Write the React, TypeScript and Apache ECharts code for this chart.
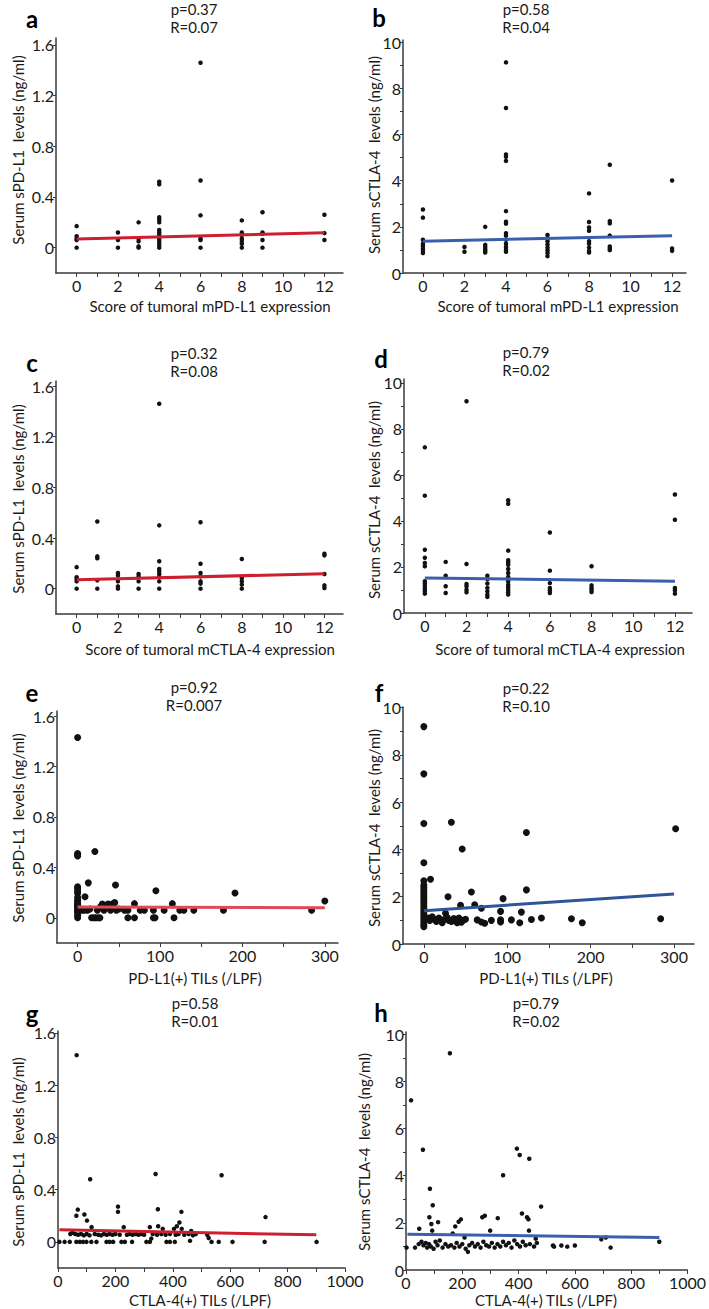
import React, { useEffect, useRef } from "react";
import * as echarts from "echarts";

type Pt = [number, number];

// ---------- data ----------
const pointsA: Pt[] = [
  [0, 0.17], [0, 0.09], [0, 0.07], [0, 0.06], [0, 0],
  [2, 0.12], [2, 0.06], [2, 0],
  [3, 0.2], [3, 0.07], [3, 0.05], [3, 0.01], [3, 0],
  [4, 0.52], [4, 0.5], [4, 0.24], [4, 0.22], [4, 0.2], [4, 0.14], [4, 0.12], [4, 0.1], [4, 0.08], [4, 0.06], [4, 0.04], [4, 0.02], [4, 0],
  [6, 1.46], [6, 0.53], [6, 0.255], [6, 0.07], [6, 0.06], [6, 0],
  [8, 0.215], [8, 0.12], [8, 0.1], [8, 0.07], [8, 0.05], [8, 0.03], [8, 0],
  [9, 0.28], [9, 0.12], [9, 0.11], [9, 0.06], [9, 0],
  [12, 0.26], [12, 0.115], [12, 0.06],
];
const fitA: Pt[] = [[0, 0.068], [12, 0.118]];

const pointsB: Pt[] = [
  [0, 2.75], [0, 2.4], [0, 1.44], [0, 1.27], [0, 1.17], [0, 1.06], [0, 0.96], [0, 0.87],
  [2, 1.13], [2, 0.92],
  [3, 2.0], [3, 1.22], [3, 1.13], [3, 1.03], [3, 0.96], [3, 0.89],
  [4, 9.13], [4, 7.15], [4, 5.14], [4, 5.04], [4, 4.86], [4, 2.68], [4, 2.22], [4, 2.14], [4, 1.72], [4, 1.62], [4, 1.44], [4, 1.27], [4, 1.13], [4, 1.01], [4, 0.92],
  [6, 1.65], [6, 1.52], [6, 1.38], [6, 1.24], [6, 1.1], [6, 0.99], [6, 0.87], [6, 0.73],
  [8, 3.45], [8, 2.21], [8, 1.97], [8, 1.83], [8, 1.38], [8, 1.27], [8, 1.1], [8, 0.96], [8, 0.89],
  [9, 4.69], [9, 2.25], [9, 2.15], [9, 1.62], [9, 1.15], [9, 1.06], [9, 0.99],
  [12, 4.01], [12, 1.06], [12, 0.96],
];
const fitB: Pt[] = [[0, 1.38], [12, 1.61]];

const pointsC: Pt[] = [
  [0, 0.17], [0, 0.09], [0, 0.076], [0, 0.058], [0, 0],
  [1, 0.53], [1, 0.255], [1, 0.24], [1, 0.066], [1, 0],
  [2, 0.124], [2, 0.105], [2, 0.058], [2, 0.018], [2, 0],
  [3, 0.116], [3, 0.097], [3, 0.058], [3, 0],
  [4, 1.46], [4, 0.5], [4, 0.216], [4, 0.155], [4, 0.137], [4, 0.116], [4, 0.092], [4, 0.058], [4, 0],
  [6, 0.524], [6, 0.197], [6, 0.124], [6, 0.097], [6, 0.058], [6, 0.04], [6, 0],
  [8, 0.234], [8, 0.084], [8, 0.058], [8, 0.032], [8, 0],
  [12, 0.276], [12, 0.263], [12, 0.116], [12, 0.026], [12, 0.005],
];
const fitC: Pt[] = [[0, 0.071], [12, 0.118]];

const pointsD: Pt[] = [
  [0, 7.2], [0, 5.1], [0, 2.75], [0, 2.4], [0, 2.17], [0, 2.03], [0, 1.38], [0, 1.28], [0, 1.16], [0, 1.04], [0, 0.94], [0, 0.84],
  [1, 2.22], [1, 1.62], [1, 1.16], [1, 0.87],
  [2, 9.2], [2, 2.13], [2, 1.26], [2, 1.16], [2, 1.01], [2, 0.9],
  [3, 1.62], [3, 1.48], [3, 1.28], [3, 1.09], [3, 0.94], [3, 0.8], [3, 0.7],
  [4, 4.9], [4, 4.75], [4, 2.71], [4, 2.29], [4, 2.2], [4, 2.1], [4, 1.91], [4, 1.74], [4, 1.57], [4, 1.38], [4, 1.23], [4, 1.12], [4, 1.01], [4, 0.9], [4, 0.8],
  [6, 3.5], [6, 1.84], [6, 1.3], [6, 1.09], [6, 0.99], [6, 0.87],
  [8, 2.03], [8, 1.2], [8, 1.09], [8, 1.01], [8, 0.91],
  [12, 5.15], [12, 4.05], [12, 1.09], [12, 0.99], [12, 0.84],
];
const fitD: Pt[] = [[0, 1.52], [12, 1.38]];

const pointsE: Pt[] = [
  [0, 1.43], [0, 0.51], [0, 0.5], [0, 0.49], [0, 0.245], [0, 0.23], [0, 0.21], [0, 0.195], [0, 0.16], [0, 0.14],
  [0, 0.12], [0, 0.11], [0, 0.1], [0, 0.09], [0, 0.08], [0, 0.07], [0, 0.06], [0, 0.05], [0, 0.04], [0, 0.02], [0, 0],
  [9, 0.167], [13, 0.277], [21, 0.525], [5, 0.06], [8, 0.06], [12, 0.06], [15, 0.07],
  [17, 0], [20, 0], [22, 0], [25, 0], [27, 0], [24, 0.06], [28, 0.09], [30, 0.11], [32, 0.06], [35, 0.09],
  [37, 0.11], [40, 0.06], [42, 0.11], [45, 0.12], [46, 0.26], [47, 0.06], [50, 0.07], [57, 0.06], [61, 0.06],
  [61, 0], [69, 0.112], [69, 0], [76, 0.06], [81, 0.06], [92, 0.06], [92, 0], [94, 0], [95, 0.214], [105, 0.06],
  [115, 0.112], [117, 0], [124, 0.06], [129, 0.06], [141, 0.06], [177, 0.06], [191, 0.196], [284, 0.06], [300, 0.133],
];
const fitE: Pt[] = [[0, 0.085], [300, 0.08]];

const pointsF: Pt[] = [
  [0, 9.2], [0, 7.2], [0, 5.1], [0, 3.44], [0, 2.68], [0, 2.5], [0, 2.4], [0, 2.3], [0, 2.2], [0, 2.1], [0, 2.0],
  [0, 1.9], [0, 1.8], [0, 1.7], [0, 1.6], [0, 1.5], [0, 1.4], [0, 1.3], [0, 1.2], [0, 1.1], [0, 1.0], [0, 0.9], [0, 0.8], [0, 0.73],
  [8, 2.74], [33, 5.15], [46, 4.02], [123, 4.72], [302, 4.88],
  [29, 2.0], [57, 2.2], [123, 2.29], [95, 1.92], [44, 1.64], [61, 1.66], [69, 1.51], [92, 1.38], [117, 1.35], [26, 1.3],
  [284, 1.07], [190, 0.9], [177, 1.07], [141, 1.1], [129, 1.04], [115, 0.9], [105, 1.02], [92, 1.02], [92, 0.93],
  [81, 1.0], [73, 0.88], [69, 0.93], [64, 1.02],
  [5, 1.1], [7, 1.0], [10, 1.15], [12, 1.05], [15, 0.95], [18, 1.1], [20, 1.0], [22, 0.9], [25, 1.05], [28, 1.12],
  [30, 1.0], [33, 0.95], [36, 1.08], [38, 0.98], [40, 0.9], [42, 1.1], [45, 0.92], [47, 1.0], [50, 1.05],
];
const fitF: Pt[] = [[0, 1.41], [300, 2.12]];

const pointsG: Pt[] = [
  [65, 1.43], [112, 0.48], [340, 0.52], [570, 0.51], [723, 0.19],
  [69, 0.247], [64, 0.2], [92, 0.21], [101, 0.163], [209, 0.27], [209, 0.23], [348, 0.25], [430, 0.23], [423, 0.148],
  [117, 0.113], [229, 0.113], [320, 0.113], [349, 0.12], [365, 0.1], [404, 0.1], [414, 0.12], [431, 0.1], [464, 0.084],
  [325, 0.025], [460, 0.008],
  [5, 0], [23, 0], [41, 0], [64, 0], [76, 0], [87, 0], [99, 0], [116, 0], [134, 0], [169, 0], [180, 0], [192, 0],
  [221, 0], [233, 0], [258, 0], [308, 0], [320, 0], [378, 0], [390, 0], [407, 0], [535, 0], [560, 0], [608, 0], [720, 0], [901, 0],
  [43, 0.06], [50, 0.07], [60, 0.06], [70, 0.055], [80, 0.06], [90, 0.05], [100, 0.06], [110, 0.05], [128, 0.06],
  [140, 0.055], [150, 0.05], [160, 0.06], [170, 0.055], [180, 0.06], [190, 0.055], [200, 0.06], [215, 0.055],
  [240, 0.055], [250, 0.06], [260, 0.055], [270, 0.06], [280, 0.055], [290, 0.06], [300, 0.055], [330, 0.06],
  [345, 0.055], [360, 0.06], [375, 0.055], [390, 0.06], [410, 0.055], [420, 0.06], [440, 0.055], [455, 0.06],
  [470, 0.05], [480, 0.06], [520, 0.055], [525, 0.03],
];
const fitG: Pt[] = [[5, 0.092], [900, 0.054]];

const pointsH: Pt[] = [
  [18, 7.2], [60, 5.1], [156, 9.2], [85, 3.45], [95, 2.75], [345, 4.02], [394, 5.15], [404, 4.88], [438, 4.72], [480, 2.69],
  [83, 2.24], [90, 1.95], [114, 2.03], [93, 1.67], [47, 1.75], [175, 1.85], [187, 2.05], [195, 2.15], [271, 2.24],
  [280, 2.3], [326, 2.2], [299, 1.67], [412, 2.4], [430, 2.24], [435, 2.15], [437, 1.67], [166, 1.55], [208, 1.38],
  [461, 1.33], [694, 1.3], [710, 1.38], [727, 0.95], [900, 1.2], [600, 1.04], [573, 0.99], [552, 1.04], [526, 0.99],
  [522, 1.04], [220, 0.77], [2, 0.95], [32, 0.95],
  [45, 1.1], [55, 1.2], [62, 1.05], [70, 1.15], [75, 0.95], [82, 1.1], [88, 1.0], [98, 0.9], [105, 1.2], [112, 1.05],
  [120, 1.25], [130, 0.95], [140, 1.1], [150, 1.0], [160, 1.05], [172, 0.95], [180, 1.15], [190, 1.0], [200, 1.1],
  [212, 0.9], [225, 1.05], [235, 1.15], [245, 1.0], [255, 1.1], [265, 0.95], [275, 1.2], [285, 1.05], [295, 1.0],
  [305, 1.15], [315, 0.95], [325, 1.1], [335, 1.0], [345, 1.2], [355, 1.05], [365, 1.15], [375, 0.95], [385, 1.25],
  [395, 1.1], [405, 1.0], [415, 1.2], [425, 1.05], [440, 1.1], [455, 1.0], [465, 1.15],
];
const fitH: Pt[] = [[5, 1.52], [900, 1.38]];

// ---------- ticks / labels ----------
const scoreLabels = [0, 2, 4, 6, 8, 10, 12];
const scoreTicks = [0, 1, 2, 3, 4, 5, 6, 7, 8, 9, 10, 11, 12];
const pdl1Labels = [0, 0.4, 0.8, 1.2, 1.6];
const ctla4Labels = [0, 2, 4, 6, 8, 10];
const ctla4Ticks = [0, 1, 2, 3, 4, 5, 6, 7, 8, 9, 10];
const til300Labels = [0, 100, 200, 300];
const til300Ticks = [0, 50, 100, 150, 200, 250, 300];
const til1000Labels = [0, 200, 400, 600, 800, 1000];
const til1000Ticks = [0, 100, 200, 300, 400, 500, 600, 700, 800, 900, 1000];

const statsP = ["p=0.37", "p=0.58", "p=0.32", "p=0.79", "p=0.92", "p=0.22", "p=0.58", "p=0.79"];
const statsR = ["R=0.07", "R=0.04", "R=0.08", "R=0.02", "R=0.007", "R=0.10", "R=0.01", "R=0.02"];
const letters = ["a", "b", "c", "d", "e", "f", "g", "h"];
const yTitlePD = "Serum sPD-L1  levels (ng/ml)";
const yTitleCT = "Serum sCTLA-4  levels (ng/ml)";
const xTitles = [
  "Score of tumoral mPD-L1 expression",
  "Score of tumoral mCTLA-4 expression",
  "PD-L1(+) TILs (/LPF)",
  "CTLA-4(+) TILs (/LPF)",
];

const RED = "#cc1f2f";
const PINK = "#dd4b5a";
const BLUE = "#3a5fae";
const FONT = "Lato, 'Noto Sans', sans-serif";
const INK = "#1a1a1a";
const AX = "#3a3a3a";

interface Panel {
  grid: { left: number; top: number; width: number; height: number };
  xMin: number; xMax: number; xLabels: number[]; xTicks: number[];
  yMin: number; yMax: number; yLabels: number[]; yTicks: number[];
  points: Pt[]; fit: Pt[]; color: string; dot: number;
  letter: [number, number]; stats: [number, number]; yTitle: [number, number]; yText: string;
  xTitle: [number, number]; xText: string;
}

const panels: Panel[] = [
  { grid: { left: 56, top: 38, width: 287, height: 235 }, xMin: -1, xMax: 12.9, xLabels: scoreLabels, xTicks: scoreTicks,
    yMin: -0.2, yMax: 1.655, yLabels: pdl1Labels, yTicks: pdl1Labels, points: pointsA, fit: fitA, color: RED, dot: 4.5,
    letter: [32, 18], stats: [194, 9], yTitle: [18, 150], yText: yTitlePD, xTitle: [210, 306], xText: xTitles[0] },
  { grid: { left: 403, top: 40, width: 283, height: 233 }, xMin: -0.96, xMax: 12.67, xLabels: scoreLabels, xTicks: scoreTicks,
    yMin: 0, yMax: 10.1, yLabels: ctla4Labels, yTicks: ctla4Ticks, points: pointsB, fit: fitB, color: BLUE, dot: 4.5,
    letter: [379, 17], stats: [526, 9], yTitle: [374, 155], yText: yTitleCT, xTitle: [558, 306], xText: xTitles[0] },
  { grid: { left: 56, top: 381, width: 287, height: 233 }, xMin: -1, xMax: 12.9, xLabels: scoreLabels, xTicks: scoreTicks,
    yMin: -0.2, yMax: 1.64, yLabels: pdl1Labels, yTicks: pdl1Labels, points: pointsC, fit: fitC, color: RED, dot: 4.5,
    letter: [32, 362], stats: [194, 353], yTitle: [18, 499], yText: yTitlePD, xTitle: [210, 649], xText: xTitles[1] },
  { grid: { left: 404, top: 379, width: 288, height: 234 }, xMin: -1, xMax: 12.82, xLabels: scoreLabels, xTicks: scoreTicks,
    yMin: 0, yMax: 10.17, yLabels: ctla4Labels, yTicks: ctla4Ticks, points: pointsD, fit: fitD, color: BLUE, dot: 4.5,
    letter: [381, 358], stats: [526, 352], yTitle: [374, 500], yText: yTitleCT, xTitle: [560, 649], xText: xTitles[1] },
  { grid: { left: 57, top: 711, width: 281, height: 232 }, xMin: -25, xMax: 316, xLabels: til300Labels, xTicks: til300Ticks,
    yMin: -0.2, yMax: 1.64, yLabels: pdl1Labels, yTicks: pdl1Labels, points: pointsE, fit: fitE, color: PINK, dot: 7,
    letter: [32, 692], stats: [194, 687], yTitle: [18, 828], yText: yTitlePD, xTitle: [195, 978], xText: xTitles[2] },
  { grid: { left: 403, top: 707, width: 291, height: 237 }, xMin: -25, xMax: 324, xLabels: til300Labels, xTicks: til300Ticks,
    yMin: 0, yMax: 10.03, yLabels: ctla4Labels, yTicks: ctla4Ticks, points: pointsF, fit: fitF, color: "#2f5597", dot: 7,
    letter: [379, 692], stats: [526, 688], yTitle: [374, 828], yText: yTitleCT, xTitle: [546, 978], xText: xTitles[2] },
  { grid: { left: 58, top: 1031, width: 287, height: 237 }, xMin: 0, xMax: 1000, xLabels: til1000Labels, xTicks: til1000Ticks,
    yMin: -0.2, yMax: 1.615, yLabels: pdl1Labels, yTicks: pdl1Labels, points: pointsG, fit: fitG, color: RED, dot: 4.5,
    letter: [32, 1013], stats: [195, 1003], yTitle: [18, 1152], yText: yTitlePD, xTitle: [200, 1300], xText: xTitles[3] },
  { grid: { left: 406, top: 1032, width: 287, height: 238 }, xMin: 0, xMax: 1000, xLabels: til1000Labels, xTicks: til1000Ticks,
    yMin: 0, yMax: 10.1, yLabels: ctla4Labels, yTicks: ctla4Ticks, points: pointsH, fit: fitH, color: BLUE, dot: 4.5,
    letter: [381, 1012], stats: [536, 1003], yTitle: [364, 1152], yText: yTitleCT, xTitle: [546, 1300], xText: xTitles[3] },
];

function buildOption() {
  const grid: any[] = [];
  const xAxis: any[] = [];
  const yAxis: any[] = [];
  const series: any[] = [];
  const graphic: any[] = [];

  panels.forEach((p, i) => {
    grid.push({ ...p.grid, containLabel: false });
    xAxis.push({
      type: "value", gridIndex: i, min: p.xMin, max: p.xMax,
      axisLine: { onZero: false, lineStyle: { color: AX, width: 1.5 } },
      axisTick: { show: true, length: 4, customValues: p.xTicks, lineStyle: { color: AX, width: 1 } },
      axisLabel: {
        customValues: p.xLabels, fontSize: 16, color: INK, fontFamily: FONT, margin: 4,
        lineHeight: 16, formatter: (v: number) => String(v),
      },
      splitLine: { show: false },
    });
    yAxis.push({
      type: "value", gridIndex: i, min: p.yMin, max: p.yMax,
      axisLine: { onZero: false, lineStyle: { color: AX, width: 1.5 } },
      axisTick: { show: true, length: 3, customValues: p.yTicks, lineStyle: { color: AX, width: 1 } },
      axisLabel: {
        customValues: p.yLabels, fontSize: 16, color: INK, fontFamily: FONT, margin: 2,
        formatter: (v: number) => String(v),
      },
      splitLine: { show: false },
    });
    series.push({
      type: "scatter", xAxisIndex: i, yAxisIndex: i, data: p.points, symbol: "circle",
      symbolSize: p.dot, itemStyle: { color: "#111", opacity: 1 }, z: 2,
    });
    series.push({
      type: "line", xAxisIndex: i, yAxisIndex: i, data: p.fit, symbol: "none",
      lineStyle: { color: p.color, width: 3 }, z: 3,
    });
    graphic.push({
      type: "text", x: p.letter[0], y: p.letter[1],
      style: { text: letters[i], font: `bold 24px ${FONT}`, fill: "#000", align: "center", verticalAlign: "middle" },
    });
    graphic.push({
      type: "text", x: p.stats[0], y: p.stats[1],
      style: { text: statsP[i], font: `15px ${FONT}`, fill: INK, align: "center", verticalAlign: "middle" },
    });
    graphic.push({
      type: "text", x: p.stats[0], y: p.stats[1] + 18,
      style: { text: statsR[i], font: `15px ${FONT}`, fill: INK, align: "center", verticalAlign: "middle" },
    });
    graphic.push({
      type: "text", x: p.yTitle[0], y: p.yTitle[1], rotation: Math.PI / 2,
      style: { text: p.yText, font: `15px ${FONT}`, fill: INK, align: "center", verticalAlign: "middle" },
    });
    graphic.push({
      type: "text", x: p.xTitle[0], y: p.xTitle[1],
      style: { text: p.xText, font: `15px ${FONT}`, fill: INK, align: "center", verticalAlign: "middle" },
    });
  });

  return {
    animation: false,
    backgroundColor: "#ffffff",
    grid, xAxis, yAxis, series, graphic,
  };
}

export default function App() {
  const ref = useRef<HTMLDivElement>(null);
  useEffect(() => {
    if (!ref.current) return;
    const chart = echarts.init(ref.current, undefined, { renderer: "svg" });
    chart.setOption(buildOption() as any);
    return () => chart.dispose();
  }, []);
  return (
    <div
      ref={ref}
      style={{ position: "absolute", left: 0, top: 0, width: 709, height: 1309, background: "#fff" }}
    />
  );
}
